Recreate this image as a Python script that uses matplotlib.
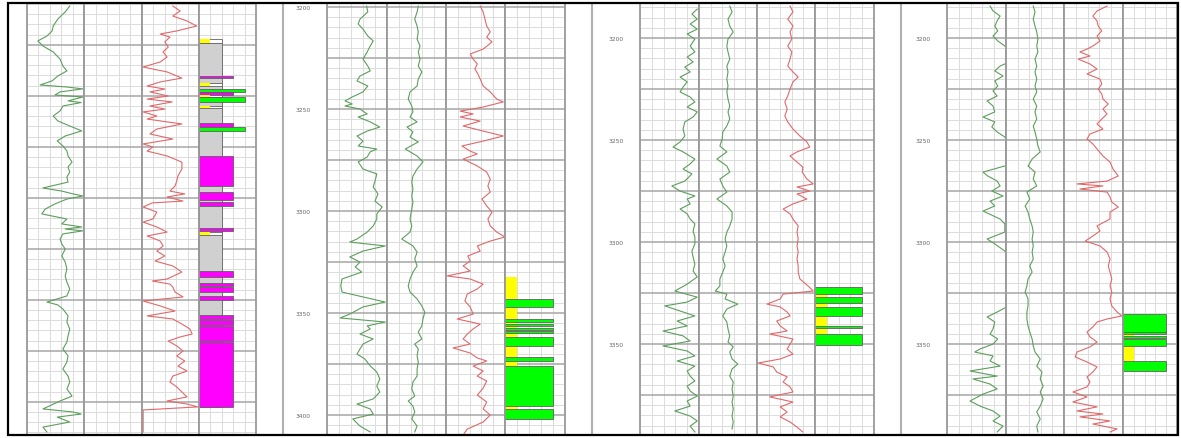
import matplotlib
matplotlib.use('Agg')
import matplotlib.pyplot as plt
from matplotlib.patches import Rectangle
from matplotlib.lines import Line2D
from matplotlib.ticker import MultipleLocator, FuncFormatter

# ---------------- well 1 ----------------
w1_gr_depth = [3256.0, 3258.9, 3262.4, 3265.8, 3268.2, 3270.7, 3273.1, 3275.6, 3278.5, 3282.0,
               3285.4, 3287.8, 3290.3, 3292.7, 3294.7, 3295.7, 3296.6, 3298.1, 3299.6, 3300.6,
               3302.5, 3303.3, 3305.0, 3307.4, 3309.9, 3312.3, 3314.8, 3317.2, 3319.7, 3322.1,
               3324.6, 3327.0, 3329.5, 3332.5, 3334.9, 3337.4, 3339.8, 3342.3, 3345.2, 3346.7,
               3348.1, 3349.1, 3350.6, 3353.0, 3355.5, 3357.9, 3360.4, 3362.8, 3364.3, 3365.3,
               3366.2, 3367.7, 3370.2, 3372.6, 3375.1, 3378.5, 3381.5, 3384.9, 3388.3, 3391.3,
               3394.7, 3398.1, 3401.1, 3402.5, 3404.5, 3407.9, 3410.9, 3414.3, 3417.7, 3420.7,
               3424.1, 3427.5, 3430.5, 3433.9, 3437.4, 3440.3, 3443.7, 3447.2, 3449.6, 3453.5,
               3455.0, 3456.0, 3457.5, 3459.9, 3462.4, 3464.8]
w1_gr = [75, 67, 54, 46, 44, 35, 19, 28, 46, 58,
         63, 70, 54, 44, 23, 70, 98, 58, 49, 98,
         72, 95, 63, 58, 46, 54, 75, 96, 67, 53,
         63, 70, 72, 79, 72, 75, 70, 72, 28, 61,
         81, 98, 70, 49, 32, 26, 70, 61, 96, 67,
         98, 63, 58, 61, 67, 61, 67, 70, 67, 70,
         75, 70, 35, 54, 63, 72, 70, 75, 72, 70,
         63, 72, 70, 63, 72, 75, 70, 79, 58, 28,
         81, 95, 53, 75, 28, 35]

w1_rt_depth = [3256.0, 3258.4, 3260.9, 3263.3, 3265.8, 3268.2, 3269.7, 3271.2, 3273.6, 3276.1,
               3278.5, 3281.0, 3283.4, 3285.9, 3288.3, 3291.3, 3293.2, 3295.2, 3296.7, 3298.1,
               3300.1, 3301.6, 3303.0, 3305.0, 3306.5, 3307.9, 3309.9, 3311.4, 3313.8, 3316.3,
               3318.7, 3321.2, 3323.6, 3325.1, 3327.1, 3329.5, 3332.5, 3335.9, 3339.3, 3341.8,
               3344.2, 3346.7, 3348.1, 3349.6, 3351.6, 3352.5, 3354.5, 3357.0, 3360.4, 3361.9,
               3364.3, 3366.8, 3368.7, 3371.2, 3373.6, 3376.1, 3378.5, 3381.0, 3383.4, 3386.4,
               3389.8, 3390.8, 3392.3, 3393.7, 3396.2, 3398.6, 3400.6, 3403.0, 3405.5, 3407.9,
               3409.4, 3411.9, 3414.3, 3416.8, 3418.2, 3420.2, 3422.6, 3425.1, 3427.5, 3430.0,
               3432.5, 3434.9, 3437.4, 3440.3, 3442.7, 3445.2, 3447.6, 3449.6, 3451.1, 3452.5,
               3454.0, 3464.8]
w1_rt = [54, 67, 54, 79, 96, 61, 32, 49, 40, 46,
         37, 44, 32, 2, 44, 70, 32, 9, 40, 14,
         46, 9, 53, 14, 40, 2, 26, 9, 70, 26,
         14, 54, 2, 19, 9, 44, 70, 70, 63, 61,
         58, 49, 75, 44, 72, 18, 2, 26, 19, 2,
         26, 44, 9, 32, 37, 26, 40, 23, 54, 70,
         44, 18, 49, 54, 58, 72, 2, 32, 58, 9,
         54, 70, 84, 88, 67, 46, 61, 72, 61, 75,
         63, 79, 54, 49, 61, 70, 79, 44, 79, 98,
         2, 2]

w1_zone_top = [3274.1, 3272.2, 3290.1, 3293.7, 3296.7, 3298.3, 3299.6, 3300.6, 3304.9, 3313.3,
               3315.1, 3329.7, 3347.0, 3351.9, 3365.0, 3366.8, 3386.0, 3391.8, 3393.7, 3398.0,
               3407.5, 3409.8, 3412.7, 3420.7]
w1_zone_base = [3452.5, 3274.1, 3291.3, 3295.0, 3298.3, 3299.5, 3300.6, 3303.0, 3306.1, 3315.1,
                3317.1, 3344.4, 3350.9, 3353.9, 3366.1, 3368.1, 3389.0, 3393.1, 3396.3, 3400.0,
                3409.4, 3412.4, 3420.1, 3452.5]
w1_zone_kind = ['mud', 'dry', 'gas', 'dry', 'oil', 'gas', 'dry', 'oil', 'dry', 'gas',
                'oil', 'gas', 'gas', 'gas', 'gas', 'dry', 'gas', 'gas', 'gas', 'gas',
                'gas', 'gas', 'gas', 'gas']

# ---------------- well 2 ----------------
w2_gr_depth = [3199.5, 3202.4, 3205.9, 3208.3, 3210.8, 3214.2, 3216.6, 3219.1, 3222.0, 3225.5,
               3228.9, 3231.3, 3233.8, 3236.2, 3238.7, 3241.6, 3244.1, 3246.0, 3247.5, 3248.5,
               3250.0, 3252.4, 3253.9, 3256.3, 3258.8, 3260.8, 3263.2, 3265.7, 3268.1, 3269.6,
               3271.0, 3273.5, 3275.9, 3279.4, 3281.8, 3285.3, 3288.2, 3291.6, 3295.1, 3298.0,
               3301.4, 3303.9, 3307.3, 3310.3, 3313.7, 3315.2, 3317.1, 3319.6, 3322.5, 3325.0,
               3327.4, 3329.9, 3333.3, 3336.7, 3339.7, 3342.1, 3344.6, 3347.0, 3350.5, 3352.4,
               3354.4, 3356.3, 3357.8, 3360.3, 3362.7, 3365.2, 3367.6, 3370.1, 3372.5, 3375.9,
               3378.9, 3382.3, 3385.8, 3388.7, 3392.1, 3394.6, 3397.0, 3399.5, 3401.9, 3405.4,
               3408.3]
w2_gr = [66, 68, 55, 52, 60, 68, 77, 72, 67, 60,
         68, 72, 55, 50, 68, 60, 42, 30, 42, 30,
         55, 67, 52, 72, 88, 67, 50, 60, 52, 83,
         72, 67, 52, 60, 83, 80, 77, 85, 80, 92,
         83, 83, 77, 67, 50, 38, 97, 60, 38, 55,
         47, 58, 25, 23, 25, 60, 97, 60, 38, 22,
         97, 67, 72, 55, 77, 60, 55, 50, 63, 72,
         83, 88, 83, 88, 77, 50, 72, 77, 43, 55,
         72]

w2_sp_depth = [3199.5, 3202.4, 3205.9, 3209.3, 3212.2, 3215.7, 3219.1, 3222.0, 3225.5, 3228.9,
               3231.8, 3235.3, 3238.7, 3241.6, 3245.1, 3248.5, 3251.4, 3253.9, 3256.3, 3258.8,
               3261.2, 3263.7, 3266.1, 3269.6, 3273.0, 3275.9, 3279.4, 3282.8, 3285.8, 3289.2,
               3292.6, 3295.6, 3299.0, 3303.9, 3307.3, 3310.3, 3313.7, 3317.1, 3320.1, 3323.5,
               3326.9, 3329.9, 3333.3, 3336.7, 3339.7, 3343.1, 3346.5, 3349.5, 3352.9, 3356.3,
               3359.3, 3362.7, 3365.2, 3367.6, 3371.1, 3374.0, 3377.4, 3380.9, 3383.8, 3387.2,
               3390.7, 3393.1, 3395.6, 3398.5, 3401.9, 3405.4, 3408.3]
w2_sp = [53, 51, 47, 51, 53, 51, 56, 53, 56, 53,
         59, 53, 51, 39, 36, 42, 44, 39, 51, 34,
         44, 39, 53, 31, 51, 61, 51, 44, 42, 44,
         42, 44, 42, 39, 42, 39, 25, 44, 51, 47,
         51, 44, 39, 36, 39, 51, 59, 64, 61, 59,
         53, 59, 47, 53, 51, 53, 51, 51, 44, 42,
         47, 36, 44, 47, 42, 51, 47]

w2_rt_depth = [3199.5, 3202.4, 3205.9, 3209.3, 3212.2, 3214.7, 3217.1, 3220.6, 3223.0, 3225.5,
               3227.9, 3230.4, 3232.8, 3235.3, 3238.7, 3241.6, 3245.1, 3246.5, 3249.0, 3251.0,
               3252.4, 3253.9, 3255.9, 3258.3, 3260.8, 3263.2, 3265.7, 3268.1, 3270.6, 3272.0,
               3274.5, 3277.9, 3280.9, 3284.3, 3287.7, 3290.7, 3294.1, 3297.5, 3300.5, 3303.9,
               3307.3, 3310.3, 3312.7, 3314.7, 3317.1, 3319.6, 3322.0, 3324.5, 3326.9, 3329.4,
               3331.8, 3333.3, 3335.8, 3338.2, 3340.7, 3344.1, 3347.0, 3350.5, 3352.9, 3355.4,
               3357.8, 3360.3, 3362.7, 3365.2, 3367.1, 3369.6, 3372.0, 3373.5, 3376.0, 3378.4,
               3380.9, 3383.3, 3386.8, 3390.2, 3393.6, 3397.0, 3400.0, 3403.4, 3406.9, 3409.8]
w2_rt = [58, 63, 66, 69, 75, 69, 78, 63, 41, 46,
         53, 49, 54, 58, 63, 75, 86, 97, 63, 24,
         46, 24, 58, 29, 63, 97, 63, 27, 41, 53,
         29, 53, 69, 75, 71, 75, 61, 69, 78, 71,
         75, 86, 100, 75, 53, 58, 37, 41, 29, 41,
         2, 41, 63, 53, 36, 32, 41, 46, 19, 58,
         46, 36, 29, 41, 12, 41, 53, 69, 46, 63,
         53, 69, 63, 53, 69, 63, 75, 63, 36, 29]

w2_zone_top = [3332.5, 3343.1, 3352.9, 3355.5, 3357.2, 3358.8, 3361.9, 3371.7, 3375.8, 3397.0]
w2_zone_base = [3401.9, 3347.2, 3354.5, 3356.5, 3358.2, 3359.8, 3366.0, 3373.4, 3395.4, 3401.9]
w2_zone_kind = ['base', 'oil', 'oil', 'oil', 'oil', 'oil', 'oil', 'oil', 'oil', 'oil']

# ---------------- well 3 ----------------
w3_gr_depth = [3185.8, 3188.2, 3190.7, 3193.1, 3195.6, 3198.0, 3200.5, 3203.9, 3206.8, 3209.3,
               3211.7, 3214.2, 3216.6, 3219.1, 3221.5, 3224.0, 3226.4, 3228.9, 3231.3, 3233.8,
               3236.2, 3238.7, 3241.1, 3244.6, 3248.0, 3250.9, 3253.4, 3255.8, 3259.3, 3261.7,
               3264.2, 3266.6, 3270.1, 3272.5, 3275.0, 3277.4, 3278.9, 3281.3, 3283.8, 3286.2,
               3288.7, 3291.1, 3294.6, 3297.5, 3300.9, 3304.4, 3307.3, 3310.8, 3314.2, 3317.1,
               3320.6, 3324.0, 3327.0, 3329.4, 3331.3, 3333.8, 3336.2, 3338.7, 3341.1, 3343.6,
               3346.0, 3348.5, 3350.9, 3353.4, 3355.8, 3358.3, 3360.8, 3363.2, 3365.7, 3368.1,
               3370.6, 3373.0, 3375.5, 3377.9, 3380.4, 3382.8, 3385.3, 3387.7, 3390.2, 3393.1]
w3_gr = [97, 88, 97, 85, 97, 80, 93, 85, 93, 80,
         90, 76, 85, 68, 80, 73, 68, 85, 93, 80,
         97, 90, 76, 73, 76, 68, 56, 73, 93, 85,
         73, 88, 76, 54, 68, 93, 80, 85, 68, 80,
         85, 93, 90, 93, 93, 88, 90, 93, 90, 97,
         80, 59, 97, 80, 42, 68, 93, 63, 80, 39,
         73, 85, 39, 80, 93, 63, 93, 80, 85, 93,
         80, 85, 97, 80, 85, 59, 85, 97, 85, 93]

w3_sp_depth = [3184.3, 3187.2, 3190.7, 3194.1, 3197.0, 3200.5, 3203.9, 3206.8, 3210.3, 3213.7,
               3216.6, 3220.1, 3223.5, 3226.4, 3229.9, 3233.3, 3236.2, 3239.7, 3243.1, 3246.0,
               3249.5, 3252.9, 3255.8, 3259.3, 3262.7, 3265.7, 3269.1, 3272.5, 3275.5, 3278.9,
               3282.3, 3285.3, 3288.7, 3292.1, 3295.1, 3298.5, 3301.9, 3304.9, 3308.3, 3311.7,
               3314.7, 3318.1, 3321.5, 3324.0, 3325.5, 3327.9, 3330.4, 3332.8, 3336.2, 3339.2,
               3342.6, 3346.0, 3349.0, 3351.4, 3353.9, 3357.3, 3359.8, 3362.2, 3365.7, 3368.6,
               3372.0, 3375.5, 3378.4, 3381.8, 3385.3, 3388.2, 3391.6]
w3_sp = [53, 57, 50, 53, 59, 50, 48, 50, 53, 48,
         50, 48, 50, 48, 50, 53, 50, 53, 48, 41,
         40, 36, 48, 31, 48, 53, 36, 41, 48, 31,
         48, 57, 57, 53, 48, 45, 48, 45, 41, 45,
         41, 36, 36, 28, 48, 45, 67, 48, 41, 48,
         50, 53, 50, 59, 53, 57, 67, 57, 53, 59,
         57, 59, 57, 59, 57, 59, 57]

w3_rt_depth = [3184.3, 3187.2, 3190.7, 3194.1, 3197.0, 3200.5, 3203.9, 3206.8, 3210.3, 3213.7,
               3216.6, 3219.1, 3221.5, 3225.0, 3228.4, 3231.3, 3234.8, 3238.2, 3241.1, 3244.6,
               3248.0, 3250.9, 3253.4, 3255.8, 3257.8, 3260.8, 3263.2, 3265.7, 3269.1, 3271.5,
               3273.0, 3275.0, 3276.4, 3278.9, 3281.3, 3283.8, 3286.2, 3288.7, 3292.1, 3295.1,
               3298.5, 3301.9, 3304.9, 3308.3, 3311.7, 3314.7, 3318.1, 3321.5, 3324.0, 3325.5,
               3327.9, 3330.4, 3331.8, 3334.3, 3336.2, 3338.7, 3341.1, 3343.6, 3345.1, 3347.5,
               3350.0, 3352.4, 3354.9, 3357.3, 3359.3, 3361.2, 3363.7, 3366.1, 3368.6, 3371.0,
               3373.5, 3375.9, 3378.4, 3380.8, 3383.3, 3385.7, 3388.2, 3390.7, 3393.1]
w3_rt = [57, 62, 53, 62, 57, 60, 53, 60, 57, 53,
         62, 71, 62, 57, 53, 48, 52, 48, 53, 62,
         74, 86, 91, 69, 57, 69, 79, 78, 86, 97,
         69, 91, 69, 86, 62, 45, 57, 62, 71, 69,
         71, 69, 71, 69, 71, 71, 74, 88, 97, 45,
         40, 17, 40, 52, 57, 34, 40, 52, 22, 62,
         57, 52, 62, 40, 2, 28, 34, 52, 45, 57,
         62, 22, 62, 40, 52, 40, 57, 69, 79]

w3_zone_top = [3325.5, 3322.2, 3327.1, 3332.0, 3341.0, 3345.1]
w3_zone_base = [3345.1, 3325.5, 3330.0, 3336.1, 3342.3, 3350.5]
w3_zone_kind = ['base', 'oil', 'oil', 'oil', 'oil', 'oil']

# ---------------- well 4 ----------------
w4_gr_depth = [3184.3, 3186.7, 3189.2, 3191.6, 3194.1, 3196.5, 3199.0, 3201.4, 3203.9, 3207.8,
               3211.2, 3213.7, 3216.1, 3218.6, 3221.0, 3223.5, 3225.9, 3228.4, 3230.8, 3233.3,
               3236.2, 3238.7, 3241.1, 3243.6, 3246.0, 3248.5, 3254.4, 3261.7, 3265.7, 3267.6,
               3270.1, 3272.5, 3275.0, 3277.4, 3279.9, 3282.3, 3284.8, 3288.7, 3291.1, 3295.1,
               3298.5, 3300.9, 3304.4, 3310.8, 3323.0, 3330.4, 3334.3, 3336.7, 3339.2, 3342.6,
               3345.1, 3347.5, 3350.0, 3352.4, 3353.9, 3355.8, 3358.3, 3360.8, 3363.2, 3365.7,
               3367.1, 3369.6, 3372.0, 3374.5, 3377.9, 3380.4, 3382.8, 3385.3, 3387.7, 3390.2,
               3393.1]
w4_gr = [73, 78, 90, 85, 81, 86, 78, 86, 98, 110,
         110, 90, 81, 95, 81, 86, 78, 85, 68, 78,
         81, 61, 81, 76, 85, 98, 110, 110, 61, 69,
         85, 90, 76, 95, 73, 81, 61, 90, 98, 98,
         68, 81, 98, 110, 110, 110, 85, 68, 81, 78,
         73, 86, 78, 56, 47, 78, 73, 90, 39, 85,
         44, 73, 85, 61, 39, 56, 78, 90, 78, 95,
         85]

w4_sp_depth = [3184.3, 3187.2, 3190.7, 3194.1, 3197.0, 3200.5, 3203.9, 3206.8, 3210.3, 3213.7,
               3216.6, 3220.1, 3223.5, 3226.4, 3229.9, 3233.3, 3236.2, 3239.7, 3243.1, 3246.0,
               3249.5, 3252.9, 3255.8, 3259.3, 3262.7, 3265.7, 3269.1, 3272.5, 3275.5, 3278.9,
               3282.3, 3285.3, 3288.7, 3292.1, 3295.1, 3298.5, 3301.9, 3304.9, 3308.3, 3311.7,
               3314.7, 3318.1, 3321.5, 3324.5, 3327.9, 3331.3, 3334.3, 3337.7, 3341.1, 3344.1,
               3347.5, 3350.9, 3353.9, 3357.3, 3360.8, 3363.7, 3367.1, 3370.6, 3373.5, 3376.9,
               3380.4, 3383.3, 3386.7, 3390.2, 3393.1]
w4_sp = [47, 50, 47, 50, 53, 55, 53, 55, 50, 53,
         50, 53, 50, 53, 47, 53, 50, 53, 47, 50,
         53, 55, 59, 45, 38, 50, 47, 53, 36, 41,
         33, 38, 41, 45, 47, 45, 47, 45, 47, 41,
         45, 38, 36, 33, 38, 38, 36, 36, 38, 41,
         45, 47, 50, 59, 53, 62, 59, 64, 59, 64,
         59, 53, 59, 53, 55]

w4_rt_depth = [3184.3, 3186.7, 3189.2, 3191.6, 3194.1, 3196.5, 3199.0, 3201.4, 3203.9, 3205.4,
               3206.8, 3208.8, 3210.3, 3212.7, 3215.2, 3217.6, 3220.1, 3222.5, 3225.0, 3227.4,
               3229.9, 3232.3, 3234.8, 3237.2, 3239.7, 3242.1, 3244.6, 3247.0, 3249.5, 3251.9,
               3254.4, 3257.8, 3260.8, 3264.2, 3267.6, 3270.1, 3271.5, 3272.5, 3274.0, 3275.5,
               3277.9, 3280.4, 3282.8, 3285.3, 3288.7, 3292.1, 3294.6, 3297.0, 3299.5, 3301.9,
               3304.9, 3308.3, 3311.7, 3314.7, 3318.1, 3321.5, 3324.5, 3327.9, 3331.3, 3334.3,
               3336.2, 3337.7, 3339.2, 3341.6, 3344.1, 3346.5, 3349.0, 3351.4, 3353.9, 3356.3,
               3358.8, 3361.2, 3363.7, 3366.1, 3368.6, 3371.0, 3373.5, 3375.9, 3378.4, 3380.8,
               3382.8, 3384.3, 3385.7, 3387.7, 3389.2, 3391.6, 3393.1]
w4_rt = [73, 56, 49, 56, 58, 64, 56, 61, 49, 39,
         27, 44, 24, 44, 56, 39, 61, 64, 58, 64,
         66, 75, 66, 73, 64, 56, 66, 44, 39, 49,
         56, 66, 78, 83, 92, 73, 22, 66, 27, 73,
         78, 81, 92, 78, 78, 56, 61, 49, 36, 61,
         73, 78, 75, 78, 81, 78, 81, 78, 81, 90,
         98, 73, 56, 49, 39, 44, 56, 44, 22, 19,
         39, 56, 49, 39, 44, 39, 15, 39, 15, 56,
         22, 66, 27, 78, 49, 90, 78]

w4_zone_top = [3344.2, 3335.3, 3344.2, 3345.9, 3347.5, 3358.2]
w4_zone_base = [3358.2, 3344.2, 3345.2, 3347.2, 3351.1, 3363.1]
w4_zone_kind = ['base', 'oil', 'oil', 'oil', 'oil', 'oil']

# ---------------- layout / style ----------------
W, H = 1181, 439
TOP_PX, BOT_PX = 5, 435
PX_PER_M = 2.04
GREEN = '#5c9e5c'
RED = '#e2686a'
EDGE = '#606060'
ZONE_STYLE = {
    'mud': dict(color='#d0d0d0', width=40, box=False),
    'dry': dict(color='#ffff00', width=20, box=True),
    'base': dict(color='#ffff00', width=20, box=False),
    'gas': dict(color='#ff00ff', width=60, box=False),
    'oil': dict(color='#00ff00', width=80, box=False),
}

wells = [
    dict(top=3255.0, edges=[27, 84, 142, 199, 256], depth_px=None,
         curves=[(0, w1_gr_depth, w1_gr, GREEN), (2, w1_rt_depth, w1_rt, RED)],
         zones=(w1_zone_top, w1_zone_base, w1_zone_kind)),
    dict(top=3198.5, edges=[327, 387, 446, 505, 565], depth_px=283,
         curves=[(0, w2_gr_depth, w2_gr, GREEN), (1, w2_sp_depth, w2_sp, GREEN),
                 (2, w2_rt_depth, w2_rt, RED)],
         zones=(w2_zone_top, w2_zone_base, w2_zone_kind)),
    dict(top=3183.3, edges=[640, 699, 757, 815, 874], depth_px=592,
         curves=[(0, w3_gr_depth, w3_gr, GREEN), (1, w3_sp_depth, w3_sp, GREEN),
                 (2, w3_rt_depth, w3_rt, RED)],
         zones=(w3_zone_top, w3_zone_base, w3_zone_kind)),
    dict(top=3183.3, edges=[947, 1006, 1064, 1123, 1177], depth_px=901,
         curves=[(0, w4_gr_depth, w4_gr, GREEN), (1, w4_sp_depth, w4_sp, GREEN),
                 (2, w4_rt_depth, w4_rt, RED)],
         zones=(w4_zone_top, w4_zone_base, w4_zone_kind)),
]

fig = plt.figure(figsize=(W / 100, H / 100), dpi=100)
fig.patch.set_facecolor('white')


def depth_label(v, pos):
    return '%d' % round(v) if abs(v % 50) < 1e-6 else ''


for well in wells:
    top = well['top']
    base = top + (BOT_PX - TOP_PX) / PX_PER_M
    tracks = []
    for i in range(4):
        x0, x1 = well['edges'][i], well['edges'][i + 1]
        ax = fig.add_axes([x0 / W, 1 - BOT_PX / H, (x1 - x0) / W, (BOT_PX - TOP_PX) / H])
        ax.set_xlim(0, 100)
        ax.set_ylim(base, top)
        ax.xaxis.set_major_locator(MultipleLocator(20))
        ax.yaxis.set_major_locator(MultipleLocator(25))
        ax.yaxis.set_minor_locator(MultipleLocator(5))
        ax.grid(which='major', axis='y', color='#a6a6a6', lw=1.1)
        ax.grid(which='minor', axis='y', color='#dcdcdc', lw=0.7)
        ax.grid(which='major', axis='x', color='#dcdcdc', lw=0.7)
        ax.set_axisbelow(True)
        ax.tick_params(which='both', length=0, labelbottom=False, labelleft=False)
        for s in ['top', 'bottom']:
            ax.spines[s].set_visible(False)
        for s in ['left', 'right']:
            ax.spines[s].set_color('#9a9a9a')
            ax.spines[s].set_linewidth(1.3)
        tracks.append(ax)

    if well['depth_px'] is not None:
        ax0 = tracks[0]
        ax0.tick_params(axis='y', which='major', labelleft=True, labelsize=4.3,
                        labelcolor='#666666', pad=12)
        ax0.yaxis.set_major_formatter(FuncFormatter(depth_label))
        xf = well['depth_px'] / W
        fig.add_artist(Line2D([xf, xf], [1 - BOT_PX / H, 1 - TOP_PX / H],
                              color='#b0b0b0', lw=1.5))

    for t, d, v, c in well['curves']:
        tracks[t].plot(v, d, color=c, lw=0.8)

    zt, zb, zk = well['zones']
    for t, b, k in zip(zt, zb, zk):
        st = ZONE_STYLE[k]
        ax = tracks[3]
        if st['box']:
            ax.add_patch(Rectangle((0, t), 40, b - t, fc='white', ec=EDGE, lw=0.6))
            ax.add_patch(Rectangle((0, t), st['width'], b - t, fc=st['color'], ec='none'))
        elif k == 'base':
            ax.add_patch(Rectangle((0, t), st['width'], b - t, fc=st['color'], ec='none'))
        else:
            ax.add_patch(Rectangle((0, t), st['width'], b - t, fc=st['color'], ec=EDGE, lw=0.6))

# outer frame
fig.add_artist(Rectangle((7.5 / W, 1 - 435.5 / H), (1178 - 7.5) / W, (435.5 - 4.3) / H,
                         transform=fig.transFigure, fill=False, ec='black', lw=1.6, zorder=20))

fig.savefig('out.png', dpi=100)
